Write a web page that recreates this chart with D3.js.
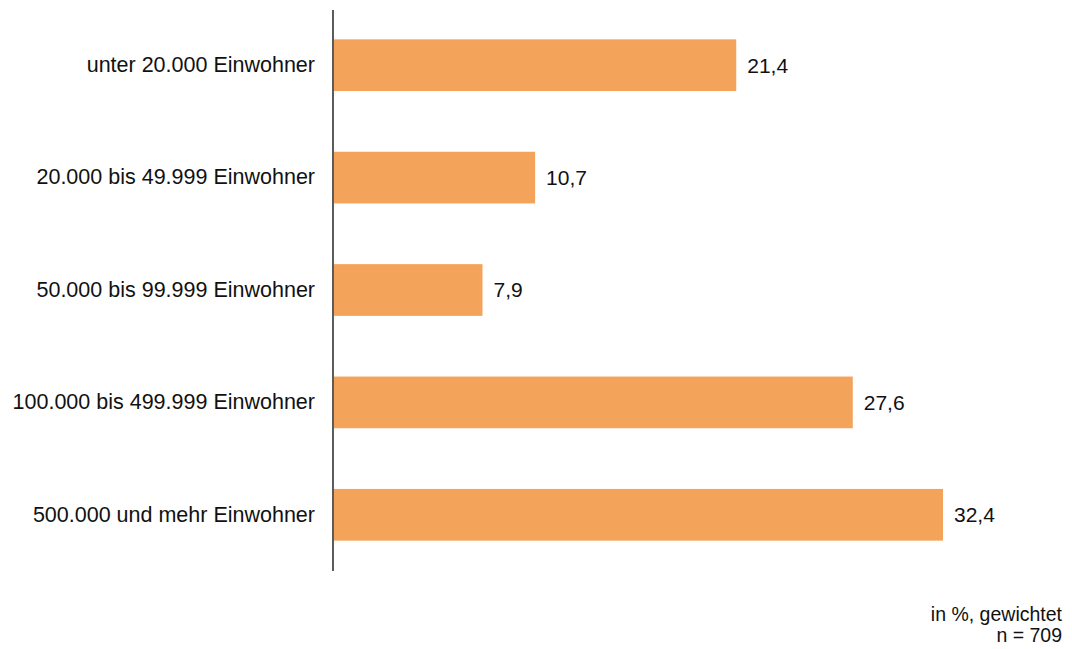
<!DOCTYPE html>
<html><head><meta charset="utf-8">
<script src="https://cdn.jsdelivr.net/npm/d3@7"></script>
<style>body{margin:0;background:#fff}svg{display:block}</style>
</head><body>
<script>
const categories = ["unter 20.000 Einwohner","20.000 bis 49.999 Einwohner","50.000 bis 99.999 Einwohner","100.000 bis 499.999 Einwohner","500.000 und mehr Einwohner"];
const values = [21.4, 10.7, 7.9, 27.6, 32.4];
const footnotes = ["in %, gewichtet", "n = 709"];

const W = 1072, H = 649;
const svg = d3.select("body").append("svg").attr("width", W).attr("height", H);
const font = "'Liberation Sans', Arial, sans-serif";

const x = d3.scaleLinear().domain([0, 32.4]).range([334, 943]);
const y = d3.scaleBand().domain(categories).range([9, 571]).paddingInner(0.54).paddingOuter(0.27);

svg.selectAll("rect.bar").data(values).join("rect")
  .attr("class","bar")
  .attr("x", x(0))
  .attr("y", (d,i) => y(categories[i]))
  .attr("width", d => x(d) - x(0))
  .attr("height", y.bandwidth())
  .attr("fill", "#F4A35A");

svg.selectAll("text.val").data(values).join("text")
  .attr("class","val")
  .attr("x", d => x(d) + 11)
  .attr("y", (d,i) => y(categories[i]) + y.bandwidth()/2)
  .attr("dy", "0.35em")
  .attr("font-family", font).attr("font-size", 21).attr("fill", "#111")
  .text(d => d.toFixed(1).replace(".", ","));

const axis = d3.axisLeft(y).tickSize(0).tickPadding(18);
const g = svg.append("g").attr("transform", "translate(333,0)").call(axis);
g.select(".domain").attr("stroke", "#333").attr("stroke-width", 1.6).attr("d", "M0,10V571");
g.selectAll("text").attr("font-family", font).attr("font-size", 21.5).attr("fill", "#111");

svg.selectAll("text.foot").data(footnotes).join("text")
  .attr("class","foot")
  .attr("x", 1062).attr("y", (d,i) => 621 + i*21)
  .attr("text-anchor", "end")
  .attr("font-family", font).attr("font-size", 19.5).attr("fill", "#111")
  .text(d => d);
</script>
</body></html>
